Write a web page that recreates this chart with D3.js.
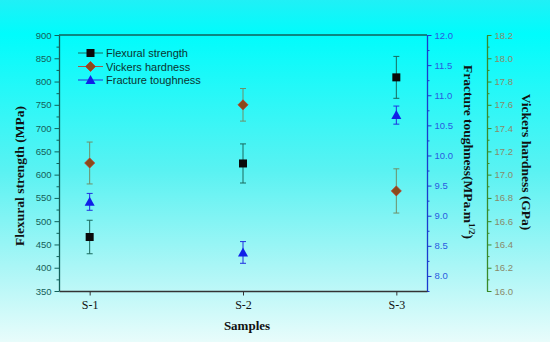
<!DOCTYPE html>
<html>
<head>
<meta charset="utf-8">
<script src="https://cdn.jsdelivr.net/npm/d3@7"></script>
<style>
  body { margin: 0; }
  svg { display: block; }
</style>
</head>
<body>
<div id="chart"></div>
<script>
const samples = ["S-1", "S-2", "S-3"];
const flexural = [466, 624, 809];
const flexuralErr = [36, 42, 45];
const vickers = [17.10, 17.60, 16.86];
const vickersErr = [0.18, 0.14, 0.19];
const toughness = [9.23, 8.39, 10.67];
const toughnessErr = [0.14, 0.18, 0.15];

const leftTicks = d3.range(350, 901, 50);
const blueTicks = d3.range(8, 12.01, 0.5);
const greenTicks = d3.range(16, 18.21, 0.2);

const svgWidth = 550, svgHeight = 342;
const plotLeft = 59, plotRight = 427, plotTop = 35, plotBottom = 291;
const greenX = 487;

let svg = d3.select("#chart")
    .append("svg")
    .attr("width", svgWidth)
    .attr("height", svgHeight);

// background gradient
let grad = svg.append("defs").append("linearGradient")
    .attr("id", "bg").attr("x1", 0).attr("y1", 0).attr("x2", 0).attr("y2", 1);
grad.append("stop").attr("offset", "0%").attr("stop-color", "#20f0f6");
grad.append("stop").attr("offset", "10%").attr("stop-color", "#00fcfc");
grad.append("stop").attr("offset", "50%").attr("stop-color", "#5af2f2");
grad.append("stop").attr("offset", "78%").attr("stop-color", "#aaf6f6");
grad.append("stop").attr("offset", "100%").attr("stop-color", "#e8fcfb");
svg.append("rect").attr("width", svgWidth).attr("height", svgHeight).attr("fill", "url(#bg)");

let x = d3.scaleLinear().domain([0.8, 3.2]).range([plotLeft, plotRight]);
let yLeft = d3.scaleLinear().domain([350, 900]).range([plotBottom, plotTop]);
let yBlue = d3.scaleLinear().domain([7.75, 12]).range([plotBottom, plotTop]);
let yGreen = d3.scaleLinear().domain([16, 18.2]).range([plotBottom, plotTop]);

// top frame line
svg.append("line")
    .attr("x1", plotLeft).attr("x2", plotRight).attr("y1", plotTop).attr("y2", plotTop)
    .attr("stroke", "#12605a").attr("stroke-width", 1.3);

function styleAxis(g, color, textColor) {
    g.select(".domain").attr("stroke", color).attr("stroke-width", 1.3);
    g.selectAll(".tick line").attr("stroke", color);
    g.selectAll(".tick text")
        .attr("fill", textColor)
        .style("font-family", "Arial, 'Liberation Sans', sans-serif")
        .style("font-size", "9.5px");
}

function minorAxis(g, axis) {
    g.call(axis);
    g.select(".domain").remove();
    g.selectAll("text").remove();
}

// left axis
svg.append("g").attr("transform", `translate(${plotLeft},0)`)
    .call(g => minorAxis(g, d3.axisLeft(yLeft).tickValues(d3.range(375, 900, 50)).tickSize(2.5)))
    .selectAll("line").attr("stroke", "#12605a");
svg.append("g").attr("transform", `translate(${plotLeft},0)`)
    .call(d3.axisLeft(yLeft).tickValues(leftTicks).tickSize(4.5).tickSizeOuter(0).tickPadding(3))
    .call(g => styleAxis(g, "#12605a", "#165e58"));

// blue axis
svg.append("g").attr("transform", `translate(${plotRight},0)`)
    .call(g => minorAxis(g, d3.axisRight(yBlue).tickValues(d3.range(7.75, 12, 0.5)).tickSize(2.5)))
    .selectAll("line").attr("stroke", "#1a3ad0");
svg.append("g").attr("transform", `translate(${plotRight},0)`)
    .call(d3.axisRight(yBlue).tickValues(blueTicks).tickSize(4.5).tickSizeOuter(0).tickPadding(3)
        .tickFormat(d3.format(".1f")))
    .call(g => styleAxis(g, "#1a3ad0", "#2a5ae0"));

// green axis
svg.append("g").attr("transform", `translate(${greenX},0)`)
    .call(g => minorAxis(g, d3.axisRight(yGreen).tickValues(d3.range(16.1, 18.2, 0.2)).tickSize(2.5)))
    .selectAll("line").attr("stroke", "#3a8a2a");
svg.append("g").attr("transform", `translate(${greenX},0)`)
    .call(d3.axisRight(yGreen).tickValues(greenTicks).tickSize(4.5).tickSizeOuter(0).tickPadding(3)
        .tickFormat(d3.format(".1f")))
    .call(g => styleAxis(g, "#3a8a2a", "#8a8a6a"));

// bottom axis
svg.append("g").attr("transform", `translate(0,${plotBottom})`)
    .call(d3.axisBottom(x).tickValues([1, 2, 3]).tickSize(4.5).tickSizeOuter(0).tickPadding(5)
        .tickFormat((d, i) => samples[i]))
    .call(g => {
        g.select(".domain").attr("stroke", "#333").attr("stroke-width", 1.3);
        g.selectAll(".tick line").attr("stroke", "#333");
        g.selectAll(".tick text").attr("fill", "#111")
            .style("font-family", "'Times New Roman', 'Liberation Serif', serif")
            .style("font-size", "12px");
    });

// error bars + markers
function addSeries(vals, errs, scale, errColor, drawMarker) {
    let g = svg.append("g");
    let idx = vals.map((v, i) => i);
    g.selectAll(".eb").data(idx).enter().append("line")
        .attr("x1", i => x(i + 1)).attr("x2", i => x(i + 1))
        .attr("y1", i => scale(vals[i] - errs[i])).attr("y2", i => scale(vals[i] + errs[i]))
        .attr("stroke", errColor).attr("stroke-width", 1);
    [-1, 1].forEach(s => {
        g.selectAll(".cap" + s).data(idx).enter().append("line")
            .attr("x1", i => x(i + 1) - 3).attr("x2", i => x(i + 1) + 3)
            .attr("y1", i => scale(vals[i] + s * errs[i])).attr("y2", i => scale(vals[i] + s * errs[i]))
            .attr("stroke", errColor).attr("stroke-width", 1);
    });
    idx.forEach(i => drawMarker(g, x(i + 1), scale(vals[i])));
}

const square = (g, cx, cy) => g.append("rect")
    .attr("x", cx - 4).attr("y", cy - 4).attr("width", 8).attr("height", 8)
    .attr("fill", "#0a0a0a");
const diamond = (g, cx, cy) => g.append("path")
    .attr("d", `M${cx},${cy - 5}L${cx + 5},${cy}L${cx},${cy + 5}L${cx - 5},${cy}Z`)
    .attr("fill", "#8a4a1a").attr("stroke", "#c8301e").attr("stroke-width", 0.8);
const triangle = (g, cx, cy) => g.append("path")
    .attr("d", `M${cx},${cy - 5}L${cx + 5},${cy + 4}L${cx - 5},${cy + 4}Z`)
    .attr("fill", "#1020e8");

addSeries(vickers, vickersErr, yGreen, "#6f8f68", diamond);
addSeries(flexural, flexuralErr, yLeft, "#1a6a5e", square);
addSeries(toughness, toughnessErr, yBlue, "#2030e0", triangle);

// legend
const legendItems = [
    { name: "Flexural strength", color: "#1a6a5e", marker: square },
    { name: "Vickers hardness", color: "#a05a4a", marker: diamond },
    { name: "Fracture toughness", color: "#2030e0", marker: triangle }
];
let legend = svg.append("g");
legendItems.forEach((d, i) => {
    let y = 53 + i * 13.5;
    legend.append("line").attr("x1", 78).attr("x2", 103).attr("y1", y).attr("y2", y)
        .attr("stroke", d.color).attr("stroke-width", 1);
    d.marker(legend, 90.5, y);
    legend.append("text").attr("x", 106).attr("y", y + 4)
        .text(d.name)
        .attr("fill", "#0a3430")
        .style("font-family", "Arial, 'Liberation Sans', sans-serif")
        .style("font-size", "11px");
});

// axis titles
const serif = "'Times New Roman', 'Liberation Serif', serif";
svg.append("text")
    .attr("transform", `translate(24,${(plotTop + plotBottom) / 2 + 13}) rotate(-90)`)
    .attr("text-anchor", "middle")
    .style("font-family", serif).style("font-weight", "bold").style("font-size", "13.5px")
    .attr("fill", "#111")
    .text("Flexural strength (MPa)");

let ft = svg.append("text")
    .attr("transform", `translate(464,152) rotate(90)`)
    .attr("text-anchor", "middle")
    .style("font-family", serif).style("font-weight", "bold").style("font-size", "13.5px")
    .attr("fill", "#111");
ft.append("tspan").text("Fracture toughness(MPa.m");
ft.append("tspan").attr("dy", -5).style("font-size", "9px").text("1/2");
ft.append("tspan").attr("dy", 5).text(")");

svg.append("text")
    .attr("transform", `translate(522,162) rotate(90)`)
    .attr("text-anchor", "middle")
    .style("font-family", serif).style("font-weight", "bold").style("font-size", "13.5px")
    .attr("fill", "#111")
    .text("Vickers hardness (GPa)");

svg.append("text")
    .attr("x", (plotLeft + plotRight) / 2 + 4).attr("y", 330)
    .attr("text-anchor", "middle")
    .style("font-family", serif).style("font-weight", "bold").style("font-size", "13px")
    .attr("fill", "#111")
    .text("Samples");
</script>
</body>
</html>
